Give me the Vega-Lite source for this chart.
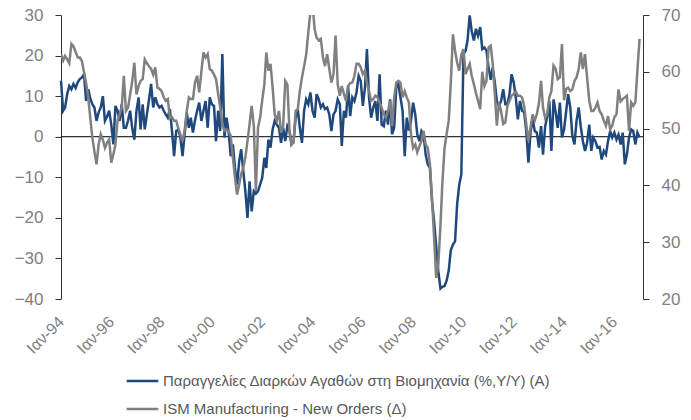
{
"$schema": "https://vega.github.io/schema/vega-lite/v6.json",
"width": 582, "height": 284,
"autosize": {"type": "none"},
"padding": {"left": 61, "top": 15, "right": 48, "bottom": 121},
"background": "white",
"config": {"view": {"stroke": null}, "font": "Liberation Sans"},
"datasets": {
"m": [
{"d":"1994-01-01","a":13.8,"b":63.1},{"d":"1994-02-01","a":6.4,"b":62},{"d":"1994-03-01","a":7.2,"b":62.8},{"d":"1994-04-01","a":10.5,"b":62.2},{"d":"1994-05-01","a":12.5,"b":61.5},{"d":"1994-06-01","a":11.7,"b":64.9},{"d":"1994-07-01","a":13,"b":64.5},{"d":"1994-08-01","a":12,"b":63.5},{"d":"1994-09-01","a":13.4,"b":62.5},{"d":"1994-10-01","a":14.2,"b":62.5},{"d":"1994-11-01","a":14.6,"b":61.9},{"d":"1994-12-01","a":15.4,"b":59.9},
{"d":"1995-01-01","a":8.8,"b":58},{"d":"1995-02-01","a":11.7,"b":55.5},{"d":"1995-03-01","a":9.5,"b":52},{"d":"1995-04-01","a":8,"b":48.4},{"d":"1995-05-01","a":7.2,"b":46},{"d":"1995-06-01","a":3.9,"b":43.7},{"d":"1995-07-01","a":6,"b":47.2},{"d":"1995-08-01","a":7.2,"b":49},{"d":"1995-09-01","a":10,"b":48},{"d":"1995-10-01","a":3.9,"b":46.6},{"d":"1995-11-01","a":5,"b":47.5},{"d":"1995-12-01","a":6.4,"b":48.1},
{"d":"1996-01-01","a":3,"b":44},{"d":"1996-02-01","a":-1.9,"b":45.5},{"d":"1996-03-01","a":7.6,"b":47.2},{"d":"1996-04-01","a":6.4,"b":51.4},{"d":"1996-05-01","a":3.9,"b":52.5},{"d":"1996-06-01","a":8,"b":53.7},{"d":"1996-07-01","a":2.2,"b":59.3},{"d":"1996-08-01","a":2.2,"b":53.1},{"d":"1996-09-01","a":4,"b":53.7},{"d":"1996-10-01","a":6.4,"b":56},{"d":"1996-11-01","a":2,"b":58.4},{"d":"1996-12-01","a":-0.7,"b":61.6},
{"d":"1997-01-01","a":6.4,"b":56},{"d":"1997-02-01","a":9.7,"b":57.5},{"d":"1997-03-01","a":1.8,"b":58.4},{"d":"1997-04-01","a":8,"b":58.7},{"d":"1997-05-01","a":1.8,"b":62.2},{"d":"1997-06-01","a":5.5,"b":61.5},{"d":"1997-07-01","a":9,"b":61},{"d":"1997-08-01","a":13,"b":60.5},{"d":"1997-09-01","a":7.2,"b":59.5},{"d":"1997-10-01","a":9.7,"b":60.8},{"d":"1997-11-01","a":8,"b":57.2},{"d":"1997-12-01","a":7.2,"b":57},
{"d":"1998-01-01","a":7.6,"b":56.6},{"d":"1998-02-01","a":6.4,"b":55.5},{"d":"1998-03-01","a":5.5,"b":54.9},{"d":"1998-04-01","a":4.7,"b":55.2},{"d":"1998-05-01","a":6.8,"b":51.9},{"d":"1998-06-01","a":1.4,"b":52},{"d":"1998-07-01","a":-4.8,"b":51.4},{"d":"1998-08-01","a":1.4,"b":51.4},{"d":"1998-09-01","a":1.8,"b":50},{"d":"1998-10-01","a":-0.2,"b":49},{"d":"1998-11-01","a":-4.8,"b":47.8},{"d":"1998-12-01","a":0.6,"b":49.6},
{"d":"1999-01-01","a":5.9,"b":53.1},{"d":"1999-02-01","a":2.2,"b":55.5},{"d":"1999-03-01","a":4.7,"b":55.2},{"d":"1999-04-01","a":1,"b":55.2},{"d":"1999-05-01","a":4,"b":58.1},{"d":"1999-06-01","a":6.4,"b":59.3},{"d":"1999-07-01","a":8.4,"b":56.4},{"d":"1999-08-01","a":3.9,"b":60},{"d":"1999-09-01","a":6.4,"b":63.4},{"d":"1999-10-01","a":8.8,"b":62.5},{"d":"1999-11-01","a":2.2,"b":63.1},{"d":"1999-12-01","a":9.7,"b":60.5},
{"d":"2000-01-01","a":8,"b":60.2},{"d":"2000-02-01","a":7.6,"b":59.5},{"d":"2000-03-01","a":-1.1,"b":58.7},{"d":"2000-04-01","a":6.4,"b":56.1},{"d":"2000-05-01","a":1.4,"b":53.7},{"d":"2000-06-01","a":20.4,"b":50.8},{"d":"2000-07-01","a":-0.2,"b":49.6},{"d":"2000-08-01","a":4.7,"b":49.9},{"d":"2000-09-01","a":1,"b":49.5},{"d":"2000-10-01","a":-4.8,"b":48.7},{"d":"2000-11-01","a":-1.9,"b":44.9},{"d":"2000-12-01","a":-7.7,"b":41.4},
{"d":"2001-01-01","a":-11.8,"b":38.4},{"d":"2001-02-01","a":-6,"b":40.2},{"d":"2001-03-01","a":-3.1,"b":42},{"d":"2001-04-01","a":-8.5,"b":43.1},{"d":"2001-05-01","a":-13.4,"b":44.9},{"d":"2001-06-01","a":-20,"b":47.8},{"d":"2001-07-01","a":-11,"b":50.8},{"d":"2001-08-01","a":-18.4,"b":54},{"d":"2001-09-01","a":-13.4,"b":50.5},{"d":"2001-10-01","a":-14,"b":39},{"d":"2001-11-01","a":-13.4,"b":50.2},{"d":"2001-12-01","a":-11.8,"b":51.9},
{"d":"2002-01-01","a":-10.1,"b":55},{"d":"2002-02-01","a":-5.2,"b":57.8},{"d":"2002-03-01","a":-7.7,"b":63.4},{"d":"2002-04-01","a":-0.7,"b":60.2},{"d":"2002-05-01","a":-2.7,"b":61.4},{"d":"2002-06-01","a":1.8,"b":57.2},{"d":"2002-07-01","a":3.9,"b":52.5},{"d":"2002-08-01","a":3,"b":51.4},{"d":"2002-09-01","a":2.2,"b":53.1},{"d":"2002-10-01","a":-1.5,"b":49.3},{"d":"2002-11-01","a":2.2,"b":50.5},{"d":"2002-12-01","a":-1.1,"b":58.4},
{"d":"2003-01-01","a":2.6,"b":57.8},{"d":"2003-02-01","a":1.4,"b":49.6},{"d":"2003-03-01","a":-1.9,"b":47.2},{"d":"2003-04-01","a":-1.1,"b":47.5},{"d":"2003-05-01","a":4.7,"b":53.1},{"d":"2003-06-01","a":6.8,"b":53.4},{"d":"2003-07-01","a":2.2,"b":56.6},{"d":"2003-08-01","a":-1.5,"b":59},{"d":"2003-09-01","a":6.4,"b":61},{"d":"2003-10-01","a":9.2,"b":63},{"d":"2003-11-01","a":8,"b":67},{"d":"2003-12-01","a":10.9,"b":70.5},
{"d":"2004-01-01","a":6.4,"b":72},{"d":"2004-02-01","a":4.7,"b":67.5},{"d":"2004-03-01","a":10.5,"b":66},{"d":"2004-04-01","a":9.2,"b":65.5},{"d":"2004-05-01","a":7.2,"b":65.8},{"d":"2004-06-01","a":8,"b":62.5},{"d":"2004-07-01","a":6.8,"b":61},{"d":"2004-08-01","a":7.2,"b":63.1},{"d":"2004-09-01","a":5.5,"b":60.5},{"d":"2004-10-01","a":1.4,"b":58.1},{"d":"2004-11-01","a":5.5,"b":59.6},{"d":"2004-12-01","a":6.4,"b":66.4},
{"d":"2005-01-01","a":9.2,"b":57.8},{"d":"2005-02-01","a":8,"b":55.8},{"d":"2005-03-01","a":-2.3,"b":57.5},{"d":"2005-04-01","a":6.4,"b":56.1},{"d":"2005-05-01","a":4.7,"b":54.9},{"d":"2005-06-01","a":12.5,"b":57.5},{"d":"2005-07-01","a":5.1,"b":58},{"d":"2005-08-01","a":9.7,"b":58.1},{"d":"2005-09-01","a":8.8,"b":59.3},{"d":"2005-10-01","a":10.9,"b":61.4},{"d":"2005-11-01","a":15,"b":61.4},{"d":"2005-12-01","a":13.8,"b":60.8},
{"d":"2006-01-01","a":7.6,"b":59.6},{"d":"2006-02-01","a":12.1,"b":60.2},{"d":"2006-03-01","a":21.6,"b":58},{"d":"2006-04-01","a":9.7,"b":56.6},{"d":"2006-05-01","a":4.7,"b":54.9},{"d":"2006-06-01","a":7.2,"b":55.2},{"d":"2006-07-01","a":8.8,"b":55.8},{"d":"2006-08-01","a":3.9,"b":55.5},{"d":"2006-09-01","a":15.4,"b":54.6},{"d":"2006-10-01","a":3,"b":53.7},{"d":"2006-11-01","a":2.6,"b":52.5},{"d":"2006-12-01","a":6.4,"b":51.9},
{"d":"2007-01-01","a":3,"b":53.1},{"d":"2007-02-01","a":9.2,"b":54.9},{"d":"2007-03-01","a":0.6,"b":50.5},{"d":"2007-04-01","a":2.2,"b":55.5},{"d":"2007-05-01","a":12.1,"b":58.1},{"d":"2007-06-01","a":13,"b":58.4},{"d":"2007-07-01","a":9.7,"b":58.1},{"d":"2007-08-01","a":6.4,"b":55.5},{"d":"2007-09-01","a":-4.8,"b":56.6},{"d":"2007-10-01","a":4.7,"b":55.5},{"d":"2007-11-01","a":1.5,"b":54.6},{"d":"2007-12-01","a":3.9,"b":49},
{"d":"2008-01-01","a":8.4,"b":46.6},{"d":"2008-02-01","a":5.5,"b":47.2},{"d":"2008-03-01","a":0.6,"b":45.8},{"d":"2008-04-01","a":-1.1,"b":46.9},{"d":"2008-05-01","a":1.4,"b":47.8},{"d":"2008-06-01","a":0.6,"b":49.6},{"d":"2008-07-01","a":-4.4,"b":47.2},{"d":"2008-08-01","a":-6.8,"b":46.6},{"d":"2008-09-01","a":-7.7,"b":43.7},{"d":"2008-10-01","a":-15.9,"b":37.8},{"d":"2008-11-01","a":-20.9,"b":30.8},{"d":"2008-12-01","a":-27,"b":23.7},
{"d":"2009-01-01","a":-33.2,"b":26.1},{"d":"2009-02-01","a":-37.4,"b":33},{"d":"2009-03-01","a":-37,"b":40.5},{"d":"2009-04-01","a":-36.8,"b":46.5},{"d":"2009-05-01","a":-35.5,"b":49},{"d":"2009-06-01","a":-33,"b":51.4},{"d":"2009-07-01","a":-28,"b":58},{"d":"2009-08-01","a":-26.6,"b":66.6},{"d":"2009-09-01","a":-25.8,"b":63.7},{"d":"2009-10-01","a":-16.7,"b":61.6},{"d":"2009-11-01","a":-11.8,"b":60.2},{"d":"2009-12-01","a":-9.3,"b":63},
{"d":"2010-01-01","a":20.4,"b":64},{"d":"2010-02-01","a":21.2,"b":59.6},{"d":"2010-03-01","a":23.7,"b":60.5},{"d":"2010-04-01","a":29.9,"b":61.4},{"d":"2010-05-01","a":26,"b":59.3},{"d":"2010-06-01","a":23.7,"b":57.8},{"d":"2010-07-01","a":26.6,"b":56.3},{"d":"2010-08-01","a":24.9,"b":54.9},{"d":"2010-09-01","a":27,"b":53.4},{"d":"2010-10-01","a":21.6,"b":60},{"d":"2010-11-01","a":22,"b":57.5},{"d":"2010-12-01","a":21.2,"b":58.4},
{"d":"2011-01-01","a":17.1,"b":64.3},{"d":"2011-02-01","a":14,"b":64.6},{"d":"2011-03-01","a":17.1,"b":61.5},{"d":"2011-04-01","a":13.4,"b":56.1},{"d":"2011-05-01","a":8.8,"b":50.5},{"d":"2011-06-01","a":7.5,"b":54.6},{"d":"2011-07-01","a":8.8,"b":53.1},{"d":"2011-08-01","a":11.7,"b":50.8},{"d":"2011-09-01","a":8,"b":51.1},{"d":"2011-10-01","a":8,"b":54},{"d":"2011-11-01","a":10.5,"b":54.9},{"d":"2011-12-01","a":15.4,"b":55.8},
{"d":"2012-01-01","a":13.4,"b":56.1},{"d":"2012-02-01","a":9.5,"b":56.5},{"d":"2012-03-01","a":4.3,"b":55.8},{"d":"2012-04-01","a":8.8,"b":55.8},{"d":"2012-05-01","a":6.4,"b":55.5},{"d":"2012-06-01","a":6,"b":54},{"d":"2012-07-01","a":1.4,"b":50.8},{"d":"2012-08-01","a":-6.4,"b":47.8},{"d":"2012-09-01","a":1,"b":50.2},{"d":"2012-10-01","a":4.5,"b":52.5},{"d":"2012-11-01","a":1.4,"b":51.4},{"d":"2012-12-01","a":1,"b":52.5},
{"d":"2013-01-01","a":-2.7,"b":54.5},{"d":"2013-02-01","a":2.6,"b":58.4},{"d":"2013-03-01","a":-4.4,"b":53.7},{"d":"2013-04-01","a":2.5,"b":51.9},{"d":"2013-05-01","a":5,"b":52.5},{"d":"2013-06-01","a":8.8,"b":55.5},{"d":"2013-07-01","a":-3.5,"b":56.6},{"d":"2013-08-01","a":9.2,"b":61.1},{"d":"2013-09-01","a":6,"b":60.5},{"d":"2013-10-01","a":2.2,"b":58.7},{"d":"2013-11-01","a":8.4,"b":59},{"d":"2013-12-01","a":-0.2,"b":64.9},
{"d":"2014-01-01","a":1.8,"b":55},{"d":"2014-02-01","a":6.4,"b":57},{"d":"2014-03-01","a":10.5,"b":57.2},{"d":"2014-04-01","a":7.2,"b":56.6},{"d":"2014-05-01","a":0.2,"b":56.9},{"d":"2014-06-01","a":-1.9,"b":58.4},{"d":"2014-07-01","a":3.9,"b":59},{"d":"2014-08-01","a":7.2,"b":60.5},{"d":"2014-09-01","a":2.4,"b":63.4},{"d":"2014-10-01","a":-1.1,"b":60.5},{"d":"2014-11-01","a":-3.5,"b":63.1},{"d":"2014-12-01","a":-1.5,"b":59},
{"d":"2015-01-01","a":3,"b":55},{"d":"2015-02-01","a":-3.5,"b":53.1},{"d":"2015-03-01","a":-0.2,"b":53.1},{"d":"2015-04-01","a":-1.1,"b":53.7},{"d":"2015-05-01","a":-2.7,"b":54.6},{"d":"2015-06-01","a":-2.5,"b":53.1},{"d":"2015-07-01","a":-5.6,"b":52.5},{"d":"2015-08-01","a":-3.5,"b":51.4},{"d":"2015-09-01","a":-4.4,"b":50.5},{"d":"2015-10-01","a":-1.1,"b":52.2},{"d":"2015-11-01","a":1.4,"b":49.9},{"d":"2015-12-01","a":-0.2,"b":50.5},
{"d":"2016-01-01","a":1,"b":52},{"d":"2016-02-01","a":-0.7,"b":52.5},{"d":"2016-03-01","a":0.5,"b":56.9},{"d":"2016-04-01","a":-1.9,"b":54.8},{"d":"2016-05-01","a":1,"b":55.2},{"d":"2016-06-01","a":-6.8,"b":55.5},{"d":"2016-07-01","a":-4.4,"b":55.8},{"d":"2016-08-01","a":-0.2,"b":49.6},{"d":"2016-09-01","a":1.8,"b":54.6},{"d":"2016-10-01","a":1.4,"b":54},{"d":"2016-11-01","a":-1.9,"b":54.6},{"d":"2016-12-01","a":1,"b":60.3},
{"d":"2017-01-01","a":-0.2,"b":65.8}
],
"z": [{"z": 0}]
},
"layer": [
 {"layer": [
  {"data": {"name": "z"},
   "mark": {"type": "rule", "color": "#000000", "strokeWidth": 1},
   "encoding": {"y": {"field": "z", "type": "quantitative", "title": null}}},
  {"data": {"name": "m"},
   "mark": {"type": "line", "strokeWidth": 2.5, "interpolate": "linear"},
   "encoding": {
    "x": {"field": "d", "type": "temporal", "title": null,
      "scale": {"type": "utc", "domain": [{"year": 1994, "month": 1, "date": 1, "utc": true}, {"year": 2017, "month": 2, "date": 20, "utc": true}]},
      "axis": {"title": null, "domain": false, "ticks": false, "grid": false, "labelAngle": -45, "labelAlign": "right", "labelBaseline": "middle", "labelPadding": 20, "labelFontSize": 16, "labelColor": "#808080", "labelFont": "Liberation Sans",
        "values": [{"year":1994,"month":1,"date":1,"utc":true},{"year":1996,"month":1,"date":1,"utc":true},{"year":1998,"month":1,"date":1,"utc":true},{"year":2000,"month":1,"date":1,"utc":true},{"year":2002,"month":1,"date":1,"utc":true},{"year":2004,"month":1,"date":1,"utc":true},{"year":2006,"month":1,"date":1,"utc":true},{"year":2008,"month":1,"date":1,"utc":true},{"year":2010,"month":1,"date":1,"utc":true},{"year":2012,"month":1,"date":1,"utc":true},{"year":2014,"month":1,"date":1,"utc":true},{"year":2016,"month":1,"date":1,"utc":true}],
        "labelExpr": "'Ιαν-' + utcFormat(datum.value, '%y')", "labelOverlap": false}},
    "y": {"field": "a", "type": "quantitative", "title": null,
      "scale": {"domain": [-40, 30], "nice": false, "zero": false},
      "axis": {"title": null, "grid": false, "values": [-40, -30, -20, -10, 0, 10, 20, 30], "domainColor": "#333333", "tickColor": "#333333", "tickSize": 6, "labelPadding": 12, "labelFontSize": 17, "labelColor": "#808080", "labelFont": "Liberation Sans"}},
    "color": {"datum": "Παραγγελίες Διαρκών Αγαθών στη Βιομηχανία  (%,Y/Y) (A)",
      "scale": {"domain": ["Παραγγελίες Διαρκών Αγαθών στη Βιομηχανία  (%,Y/Y) (A)", "ISM Manufacturing  - New Orders  (Δ)"], "range": ["#1F497D", "#808080"]},
      "legend": {"orient": "none", "legendX": 64, "legendY": 358, "direction": "vertical", "title": null, "symbolType": "stroke", "symbolSize": 1000, "symbolStrokeWidth": 2.5, "labelFontSize": 15, "labelColor": "#595959", "labelFont": "Liberation Sans", "clipHeight": 16, "rowPadding": 12, "labelOffset": 3, "labelLimit": 0}}
   }}
 ]},
 {"data": {"name": "m"},
  "mark": {"type": "line", "strokeWidth": 2.5, "clip": true},
  "encoding": {
   "x": {"field": "d", "type": "temporal", "title": null},
   "y": {"field": "b", "type": "quantitative", "title": null,
     "scale": {"domain": [20, 70], "nice": false, "zero": false},
     "axis": {"orient": "right", "title": null, "grid": false, "values": [20, 30, 40, 50, 60, 70], "domainColor": "#333333", "tickColor": "#333333", "tickSize": 6, "labelPadding": 12, "labelFontSize": 17, "labelColor": "#808080", "labelFont": "Liberation Sans"}},
   "color": {"datum": "ISM Manufacturing  - New Orders  (Δ)"}
  }}
],
"resolve": {"scale": {"y": "independent"}}
}
